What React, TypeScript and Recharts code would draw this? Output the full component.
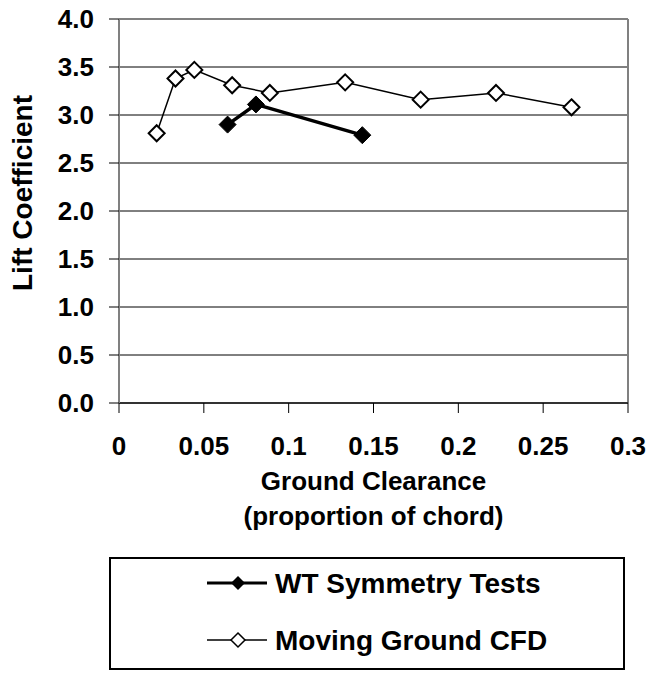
import React from 'react';
import {
  LineChart,
  Line,
  XAxis,
  YAxis,
  CartesianGrid,
  ReferenceLine,
  Legend,
  Label,
} from 'recharts';

// ground clearance as proportion of chord, lift coefficient
const cfdClearance = [0.0222, 0.0333, 0.0444, 0.0667, 0.0889, 0.1333, 0.1778, 0.2222, 0.2667];
const cfdLift = [2.81, 3.38, 3.47, 3.31, 3.23, 3.34, 3.16, 3.23, 3.08];
const wtClearance = [0.064, 0.0807, 0.1434];
const wtLift = [2.9, 3.11, 2.79];

const xTicks = [0, 0.05, 0.1, 0.15, 0.2, 0.25, 0.3];
const yTicks = [0, 0.5, 1, 1.5, 2, 2.5, 3, 3.5, 4];

const cfdData = cfdClearance.map((x, i) => ({ x, lift: cfdLift[i] }));
const wtData = wtClearance.map((x, i) => ({ x, lift: wtLift[i] }));

const FONT = '"Liberation Sans", Arial, sans-serif';
const AXIS_GRAY = '#808080';

const diamond = (cx: number, cy: number, r: number) =>
  `M${cx},${cy - r} L${cx + r},${cy} L${cx},${cy + r} L${cx - r},${cy} Z`;

const OpenDiamond = (props: any) => {
  const { cx, cy, index } = props;
  if (cx == null || cy == null) return <g key={index} />;
  return <path key={index} d={diamond(cx, cy, 8)} fill="#fff" stroke="#000" strokeWidth={2} />;
};

const FilledDiamond = (props: any) => {
  const { cx, cy, index } = props;
  if (cx == null || cy == null) return <g key={index} />;
  return <path key={index} d={diamond(cx, cy, 8.5)} fill="#000" stroke="#000" strokeWidth={1} />;
};

const YTick = (props: any) => {
  const { x, y, payload } = props;
  return (
    <text x={x - 13} y={y} dy={9} textAnchor="end" fontFamily={FONT} fontSize={26} fontWeight={700} fill="#000">
      {Number(payload.value).toFixed(1)}
    </text>
  );
};

const XTick = (props: any) => {
  const { x, y, payload } = props;
  return (
    <text x={x} y={y + 40} textAnchor="middle" fontFamily={FONT} fontSize={26} fontWeight={700} fill="#000">
      {String(payload.value)}
    </text>
  );
};

const XTitle = (props: any) => {
  const vb = props.viewBox;
  const cx = vb.x + vb.width / 2;
  return (
    <g fontFamily={FONT} fontSize={26} fontWeight={700} fill="#000">
      <text x={cx} y={vb.y + 87} textAnchor="middle">Ground Clearance</text>
      <text x={cx} y={vb.y + 122} textAnchor="middle">(proportion of chord)</text>
    </g>
  );
};

const YTitle = (props: any) => {
  const vb = props.viewBox;
  const cy = vb.y + vb.height / 2 - 18;
  return (
    <text
      x={32}
      y={cy}
      transform={`rotate(-90, 32, ${cy})`}
      textAnchor="middle"
      fontFamily={FONT}
      fontSize={28}
      fontWeight={700}
      fill="#000"
    >
      Lift Coefficient
    </text>
  );
};

const LegendBox = () => (
  <svg width={516} height={113} style={{ display: 'block' }}>
    <rect x={1} y={1} width={514} height={111} fill="#fff" stroke="#000" strokeWidth={2} />
    <line x1={98} x2={158} y1={26} y2={26} stroke="#000" strokeWidth={3} />
    <path d={diamond(129, 26, 7)} fill="#000" />
    <text x={166} y={36} fontFamily={FONT} fontSize={28} fontWeight={700} fill="#000">
      WT Symmetry Tests
    </text>
    <line x1={98} x2={158} y1={83} y2={83} stroke="#000" strokeWidth={1.5} />
    <path d={diamond(129, 83, 7)} fill="#fff" stroke="#000" strokeWidth={1.5} />
    <text x={166} y={93} fontFamily={FONT} fontSize={28} fontWeight={700} fill="#000">
      Moving Ground CFD
    </text>
  </svg>
);

export default function App() {
  return (
    <div style={{ position: 'absolute', left: 0, top: 0, background: '#fff' }}>
      <LineChart width={652} height={675} margin={{ top: 19, right: 24, bottom: 212, left: 0 }}>
        <CartesianGrid vertical={false} stroke="#000" strokeWidth={1} />
        <XAxis
          type="number"
          dataKey="x"
          domain={[0, 0.3]}
          ticks={xTicks}
          interval={0}
          height={60}
          tickSize={10}
          axisLine={{ stroke: '#333', strokeWidth: 2 }}
          tickLine={{ stroke: '#000', strokeWidth: 1 }}
          tick={<XTick />}
          allowDataOverflow
        >
          <Label content={<XTitle />} />
        </XAxis>
        <YAxis
          type="number"
          domain={[0, 4]}
          ticks={yTicks}
          interval={0}
          width={119}
          tickSize={10}
          axisLine={{ stroke: AXIS_GRAY, strokeWidth: 2 }}
          tickLine={{ stroke: '#000', strokeWidth: 1 }}
          tick={<YTick />}
        >
          <Label content={<YTitle />} />
        </YAxis>
        <ReferenceLine y={4} stroke={AXIS_GRAY} strokeWidth={2} />
        <ReferenceLine x={0.3} stroke={AXIS_GRAY} strokeWidth={2} />
        <Line
          data={cfdData}
          dataKey="lift"
          name="Moving Ground CFD"
          type="linear"
          stroke="#000"
          strokeWidth={1.5}
          dot={<OpenDiamond />}
          isAnimationActive={false}
        />
        <Line
          data={wtData}
          dataKey="lift"
          name="WT Symmetry Tests"
          type="linear"
          stroke="#000"
          strokeWidth={3.5}
          dot={<FilledDiamond />}
          isAnimationActive={false}
        />
        <Legend
          layout="vertical"
          verticalAlign="middle"
          align="center"
          content={<LegendBox />}
          wrapperStyle={{ left: 109, top: 557, width: 516, height: 113 }}
        />
      </LineChart>
    </div>
  );
}
